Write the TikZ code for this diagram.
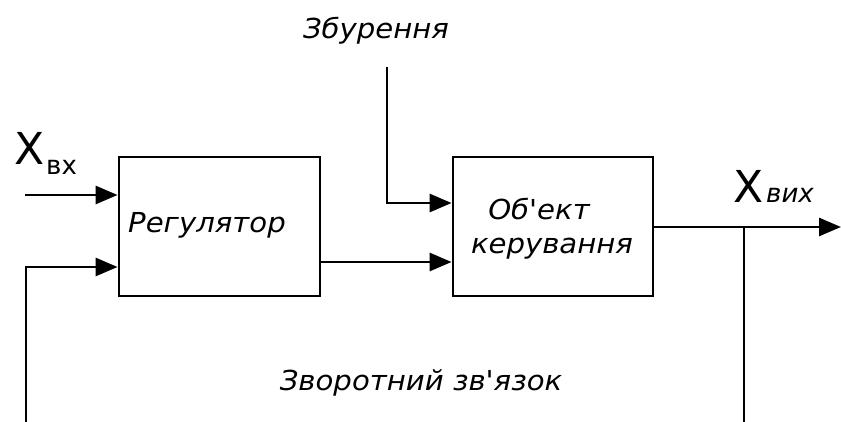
\documentclass[tikz,border=0pt]{standalone}
\usepackage{fontspec}
\setmainfont{DejaVu Sans}
\usetikzlibrary{arrows.meta}
\newcommand\wtxt[1]{\scalebox{1.06}[1]{\fontsize{27.5}{30}\selectfont\itshape #1}}
\begin{document}
\begin{tikzpicture}[x=1pt,y=-1pt,
  blk/.style={draw,line width=2.8pt,inner sep=0pt},
  ln/.style={line width=2.8pt},
  arr/.style={ln,-{Triangle[length=22pt,width=18pt]}},
  lbl/.style={inner sep=0pt,anchor=base}]
\useasboundingbox (0,0) rectangle (841,422);
\fill[white] (0,0) rectangle (841,422);
% blocks
\node[blk,minimum width=201pt,minimum height=139pt] (reg) at (219.5,226.5) {};
\node[blk,minimum width=200pt,minimum height=139pt] (obj) at (553,226.5) {};
% texts
\node[lbl] (treg) at (207,233) {\wtxt{Регулятор}};
\node[lbl] (tobj1) at (539,220) {\wtxt{Об\textquotesingle ект}};
\node[lbl] (tobj2) at (552,254) {\wtxt{керування}};
\node[lbl] (tdist) at (376,39) {\wtxt{Збурення}};
\node[lbl] (tfb) at (421,390) {\wtxt{Зворотний зв\textquotesingle язок}};
\node[lbl] (xin) at (30,165) {\fontsize{44}{46}\selectfont X};
\node[lbl,anchor=base west] (xinsub) at (46,175) {\fontsize{26}{28}\selectfont вх};
\node[lbl] (xout) at (749,203) {\fontsize{44}{46}\selectfont X};
\node[lbl,anchor=base west] (xoutsub) at (766,203) {\fontsize{26}{28}\selectfont\itshape вих};
% coordinates
\coordinate (inS) at (25,195);
\coordinate (fbB) at (26,422);
\coordinate (fbC) at (26,267);
\coordinate (dT) at (387,67);
\coordinate (dC) at (387,203);
\coordinate (outE) at (841,227);
\coordinate (tap) at (744,227);
\coordinate (tapB) at (744,422);
% connectors
\draw[arr] (inS) -- (inS -| reg.west);
\draw[arr] (fbB) -- (fbC) -- (fbC -| reg.west);
\draw[arr] (reg.east |- 0,262) -- (obj.west |- 0,262);
\draw[arr] (dT) -- (dC) -- (dC -| obj.west);
\draw[arr] (obj.east |- outE) -- (outE);
\draw[ln] (tap) -- (tapB);
\end{tikzpicture}
\end{document}
